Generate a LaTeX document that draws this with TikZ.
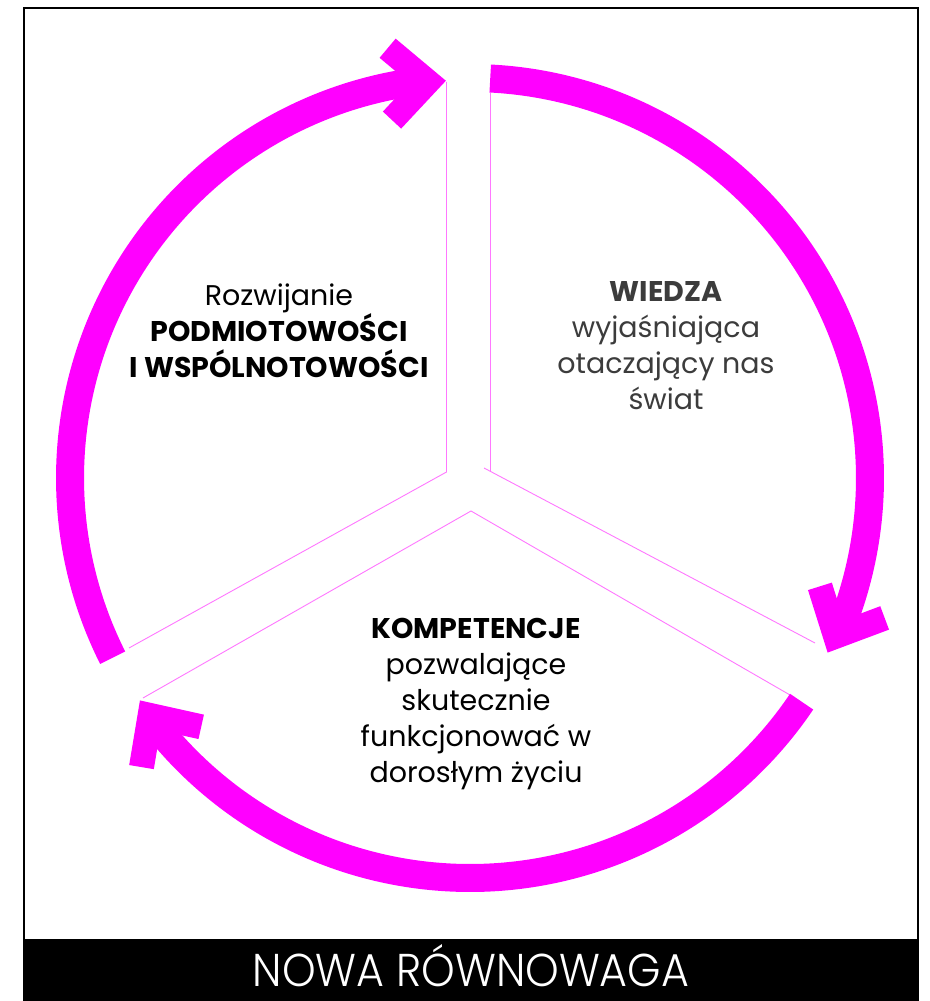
\documentclass[tikz,border=0pt]{standalone}
\usepackage{fontspec}
\setmainfont{Poppins}
\IfFontExistsTF{Poppins Light}{\newfontfamily\titlefont{Poppins Light}[FakeStretch=0.93]}{\newfontfamily\titlefont{Poppins}[FakeStretch=0.93]}
\usetikzlibrary{calc}
\definecolor{mag}{HTML}{FF00FF}
\definecolor{lmag}{HTML}{FF77FF}
\definecolor{gtext}{HTML}{3C3C3C}
\begin{document}
\begin{tikzpicture}[x=1pt,y=1pt,
  band/.style={draw=mag, line width=28pt, line cap=butt},
  headstroke/.style={draw=mag, line width=25pt, line join=miter, line cap=butt},
  sep/.style={draw=lmag, line width=0.9pt},
  lbl/.style={font=\fontsize{28.5}{36}\selectfont, align=center, anchor=base, inner sep=0pt},
  ahead/.pic={\draw[headstroke] (-56,36) -- (-18,0) -- (-56,-36);}]
\useasboundingbox (0,0) rectangle (929,1001);
\fill[white] (0,0) rectangle (929,1001);
\coordinate (C) at (470,523);
% separators (exploded pie)
\coordinate (La) at (446.5,529);
\coordinate (Lt) at (446.5,919);
\coordinate (Lb) at (129,353);
\coordinate (Ra) at (490.5,529);
\coordinate (Rt) at (490.5,908);
\coordinate (Rd0) at (484,533);
\coordinate (Rb) at (815,358);
\coordinate (Ba) at (471,490);
\coordinate (Bl) at (143,303);
\coordinate (Br) at (790,306);
\draw[sep] (Lt) -- (La) -- (Lb);
\draw[sep] (Rt) -- (Ra);
\draw[sep] (Rd0) -- (Rb);
\draw[sep] (Bl) -- (Ba) -- (Br);
% arcs
\draw[band] ($(C)+(206.7:400)$) arc[start angle=206.7, end angle=97.5, radius=400];
\draw[band] ($(C)+(87.1:400)$) arc[start angle=87.1, end angle=-22.4, radius=400];
\draw[band] ($(C)+(-34:400)$) arc[start angle=-34, end angle=-142.4, radius=400];
% arrowheads
\pic[rotate=3.5] at ($(C)+(93.5:398)$) {ahead};
\pic[rotate=-116] at ($(C)+(-26:398)$) {ahead};
\pic[rotate=124] at ($(C)+(-146:398)$) {ahead};
% labels (base anchor = last line's baseline)
\node[lbl] (lt) at (279,623) {Rozwijanie\\\textbf{PODMIOTOWOŚCI}\\\textbf{I WSPÓLNOTOWOŚCI}};
\node[lbl, text=gtext] (rt) at (666,591) {\textbf{WIEDZA}\\wyjaśniająca\\otaczający nas\\świat};
\node[lbl] (bt) at (476,218) {\textbf{KOMPETENCJE}\\pozwalające\\skutecznie\\funkcjonować w\\dorosłym życiu};
% frame and title bar
\draw[line width=2.5pt] (24,61) rectangle (918,993);
\fill[black] (23,0) rectangle (919,61);
\node[anchor=base, inner sep=0pt, text=white, font=\titlefont\fontsize{46}{46}\selectfont] (title) at (471,14) {NOWA RÓWNOWAGA};
\end{tikzpicture}
\end{document}
